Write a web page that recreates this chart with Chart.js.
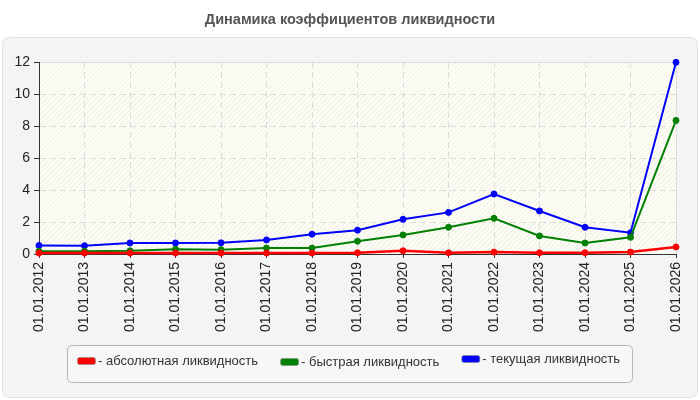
<!DOCTYPE html>
<html>
<head>
<meta charset="utf-8">
<script src="https://cdn.jsdelivr.net/npm/chart.js@4/dist/chart.umd.min.js"></script>
<style>
html,body{margin:0;padding:0;background:#fff;}
#wrap{width:700px;height:400px;position:relative;}
</style>
</head>
<body>
<div id="wrap"><canvas id="c" width="700" height="400"></canvas></div>
<script>
const titleText = 'Динамика коэффициентов ликвидности';
const categories = ['01.01.2012','01.01.2013','01.01.2014','01.01.2015','01.01.2016','01.01.2017','01.01.2018','01.01.2019','01.01.2020','01.01.2021','01.01.2022','01.01.2023','01.01.2024','01.01.2025','01.01.2026'];
const absoluteLiquidity = [0.06,0.06,0.06,0.06,0.06,0.06,0.06,0.08,0.2,0.08,0.12,0.08,0.08,0.12,0.44];
const quickLiquidity    = [0.17,0.17,0.2,0.3,0.27,0.37,0.37,0.8,1.19,1.67,2.23,1.13,0.69,1.04,8.35];
const currentLiquidity  = [0.53,0.52,0.69,0.69,0.7,0.88,1.24,1.49,2.17,2.6,3.75,2.69,1.67,1.33,11.98];
const seriesLabels = ['- абсолютная ликвидность','- быстрая ликвидность','- текущая ликвидность'];
const seriesColors = ['#ff0000','#008000','#0000ff'];
const yTicks = [0,2,4,6,8,10,12];

const FONT = "'Liberation Sans', Arial, sans-serif";

function rr(ctx,x,y,w,h,r){
  ctx.beginPath();
  ctx.moveTo(x+r,y);ctx.lineTo(x+w-r,y);ctx.quadraticCurveTo(x+w,y,x+w,y+r);
  ctx.lineTo(x+w,y+h-r);ctx.quadraticCurveTo(x+w,y+h,x+w-r,y+h);
  ctx.lineTo(x+r,y+h);ctx.quadraticCurveTo(x,y+h,x,y+h-r);
  ctx.lineTo(x,y+r);ctx.quadraticCurveTo(x,y,x+r,y);ctx.closePath();
}

const decor = {
  id:'decor',
  beforeDraw(chart){
    const ctx = chart.ctx, a = chart.chartArea;
    ctx.save();
    ctx.fillStyle='#fff';ctx.fillRect(0,0,700,400);
    // panel
    rr(ctx,2.5,37.5,695,360,8);
    ctx.fillStyle='#f4f4f4';ctx.fill();
    ctx.strokeStyle='#e2e2e2';ctx.lineWidth=1;ctx.stroke();
    // title
    ctx.fillStyle='#555';
    ctx.font="bold 14.5px "+FONT;
    ctx.textAlign='center';ctx.textBaseline='middle';
    ctx.fillText(titleText,350,20);
    // plot background with hatching
    ctx.fillStyle='#fdfdf6';
    ctx.fillRect(a.left,a.top,a.right-a.left,a.bottom-a.top);
    const ys = chart.scales.y;
    ctx.save();
    ctx.beginPath();ctx.rect(a.left,a.top,a.right-a.left,a.bottom-a.top);ctx.clip();
    for(let i=0;i<yTicks.length-1;i++){
      const yb = ys.getPixelForValue(yTicks[i]), yt = ys.getPixelForValue(yTicks[i+1]);
      ctx.save();
      ctx.beginPath();ctx.rect(a.left,yt,a.right-a.left,yb-yt);ctx.clip();
      ctx.strokeStyle = (i%2===0)?'#ecece6':'#f1f1e6';
      ctx.lineWidth=1;
      ctx.beginPath();
      for(let x=a.left-300;x<a.right+300;x+=5){
        ctx.moveTo(x,yb);ctx.lineTo(x+(yb-yt),yt);
      }
      ctx.stroke();
      ctx.restore();
    }
    ctx.restore();
    // top/right plot frame
    ctx.strokeStyle='#dedede';ctx.lineWidth=1;
    ctx.beginPath();
    ctx.moveTo(a.left,Math.round(a.top)+0.5);ctx.lineTo(a.right+0.5,Math.round(a.top)+0.5);
    ctx.lineTo(Math.round(a.right)+0.5,a.bottom);
    ctx.stroke();
    // legend
    rr(ctx,67.5,345.5,565,37,5);
    ctx.fillStyle='#f7f7f7';ctx.fill();
    ctx.strokeStyle='#b4b4b4';ctx.stroke();
    ctx.font="13px "+FONT;
    ctx.textAlign='left';ctx.textBaseline='middle';
    let x = 77;
    const yOff=[361,362,359];
    chart.data.datasets.forEach((ds,i)=>{
      const cy=yOff[i];
      rr(ctx,x+0.5,cy-3.5,18,7,2);
      ctx.fillStyle=ds.borderColor;ctx.fill();
      ctx.strokeStyle='#888';ctx.lineWidth=0.6;ctx.stroke();
      ctx.fillStyle='#333';
      ctx.fillText(ds.label,x+21,cy);
      const w=ctx.measureText(ds.label).width;
      x += 21 + w + 22;
    });
    ctx.restore();
  }
};

const mk=(label,data,color,bw)=>({label,data,borderColor:color,backgroundColor:color,pointBackgroundColor:color,pointBorderColor:color,borderWidth:bw,pointRadius:3,pointBorderWidth:1,pointHoverRadius:3,tension:0,clip:false});

new Chart(document.getElementById('c'),{
  type:'line',
  data:{labels:categories,datasets:[
    mk(seriesLabels[0],absoluteLiquidity,seriesColors[0],2.5),
    mk(seriesLabels[1],quickLiquidity,seriesColors[1],2),
    mk(seriesLabels[2],currentLiquidity,seriesColors[2],2)
  ]},
  plugins:[decor],
  options:{
    responsive:false,animation:false,devicePixelRatio:1,
    layout:{padding:{top:62,right:24,bottom:56,left:0}},
    plugins:{legend:{display:false},title:{display:false},tooltip:{enabled:false}},
    scales:{
      x:{
        offset:false,
        grid:{color:'#dcdcdc',tickColor:'#333',tickLength:4,drawTicks:true},
        border:{color:'#333',width:1,dash:[6,4]},
        ticks:{minRotation:90,maxRotation:90,autoSkip:false,padding:4,color:'#222',font:{family:FONT,size:14}},
        afterFit(s){s.height=90;}
      },
      y:{
        min:0,max:12,
        grid:{color:'#dcdcdc',tickColor:'#333',tickLength:5},
        border:{color:'#333',width:1,dash:[6,4]},
        ticks:{stepSize:2,padding:4,color:'#222',font:{family:FONT,size:14}},
        afterFit(s){s.width=39;}
      }
    }
  }
});
</script>
</body>
</html>
